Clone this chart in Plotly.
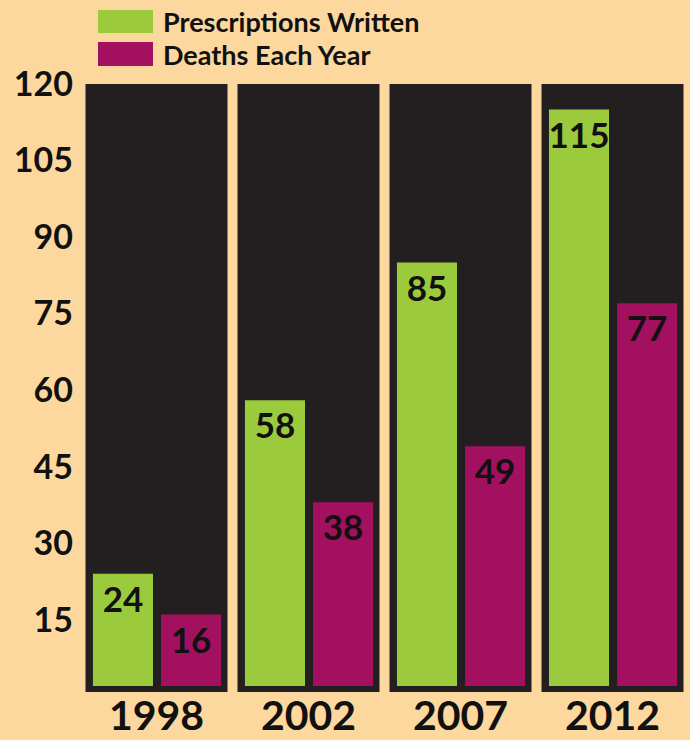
import plotly.graph_objects as go

years = ["1998", "2002", "2007", "2012"]
prescriptions = [24, 58, 85, 115]
deaths = [16, 38, 49, 77]
series_names = ["Prescriptions Written", "Deaths Each Year"]
y_ticks = [15, 30, 45, 60, 75, 90, 105, 120]

BG = "#FCD89E"
PANEL = "#231F20"
GREEN = "#9BCA3C"
MAGENTA = "#A2105F"
TXT = "#111111"
FONT = "Lato"

W, H = 690, 740
L, R, T, B = 82, 3, 84, 54
XMIN, XMAX = -0.49, 3.49
YMIN, YMAX = 2.0, 120.0

xs = list(range(len(years)))

fig = go.Figure()
fig.add_trace(go.Bar(
    x=xs, y=prescriptions, name=series_names[0], marker_color=GREEN,
    width=0.395, offset=-0.418, text=[str(v) for v in prescriptions],
    textposition="inside", insidetextanchor="end", textangle=0,
    constraintext="none", cliponaxis=False,
    textfont=dict(family=FONT, size=35, color=TXT, weight=700),
    marker_line_width=0, showlegend=False,
))
fig.add_trace(go.Bar(
    x=xs, y=deaths, name=series_names[1], marker_color=MAGENTA,
    width=0.395, offset=0.03, text=[str(v) for v in deaths],
    textposition="inside", insidetextanchor="end", textangle=0,
    constraintext="none", cliponaxis=False,
    textfont=dict(family=FONT, size=35, color=TXT, weight=700),
    marker_line_width=0, showlegend=False,
))

plot_h = H - T - B
plot_w = W - L - R
def px(v):
    return (v - XMIN) / (XMAX - XMIN)

shapes = []
half = 0.467
for i in xs:
    shapes.append(dict(type="rect", xref="paper", yref="paper",
                       x0=px(i - half), x1=px(i + half),
                       y0=-6 / plot_h, y1=1.0,
                       fillcolor=PANEL, line_width=0, layer="below"))

# legend swatches (manual)
leg_items = [(series_names[0], GREEN, 10, 33), (series_names[1], MAGENTA, 42, 66)]
annotations = []
for name, col, ytop, ybot in leg_items:
    shapes.append(dict(type="rect", xref="paper", yref="paper",
                       x0=(98 - L) / plot_w, x1=(153 - L) / plot_w,
                       y0=(H - B - ybot) / plot_h, y1=(H - B - ytop) / plot_h,
                       fillcolor=col, line_width=0))
    annotations.append(dict(xref="paper", yref="paper",
                            x=(161 - L) / plot_w,
                            y=(H - B - (ytop + ybot) / 2) / plot_h,
                            xanchor="left", yanchor="middle", showarrow=False,
                            text=name,
                            font=dict(family=FONT, size=27, color=TXT, weight=700)))

fig.update_layout(
    width=W, height=H,
    margin=dict(l=L, r=R, t=T, b=B, autoexpand=False),
    paper_bgcolor=BG, plot_bgcolor=BG,
    barmode="overlay",
    shapes=shapes, annotations=annotations,
    showlegend=False,
    xaxis=dict(range=[XMIN, XMAX], tickmode="array", tickvals=xs, ticktext=years,
               showgrid=False, zeroline=False, showline=False, ticks="",
               tickfont=dict(family=FONT, size=41, color=TXT, weight=700),
               ticklabelstandoff=2, automargin=False),
    yaxis=dict(range=[YMIN, YMAX], tickmode="array", tickvals=y_ticks,
               showgrid=False, zeroline=False, showline=False, ticks="",
               tickfont=dict(family=FONT, size=34, color=TXT, weight=700),
               ticklabelstandoff=8, automargin=False),
)

fig.write_html("out.html", config={"displayModeBar": False},
               post_script="document.body.style.margin='0';document.body.style.background='%s';" % BG)
